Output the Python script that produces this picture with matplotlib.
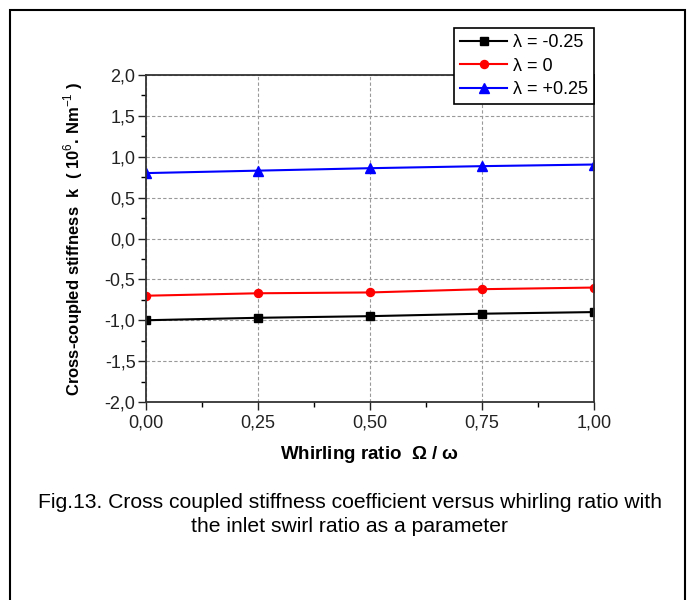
import matplotlib
matplotlib.use("Agg")
import matplotlib.pyplot as plt
from matplotlib.patches import Rectangle
from matplotlib.ticker import MultipleLocator, FuncFormatter

plt.rcParams['font.family'] = ['Liberation Sans', 'DejaVu Sans']
plt.rcParams['mathtext.fontset'] = 'custom'
plt.rcParams['mathtext.rm'] = 'Liberation Sans'
plt.rcParams['mathtext.bf'] = 'Liberation Sans:bold'

x = [0.0, 0.25, 0.5, 0.75, 1.0]
k_neg = [-1.00, -0.97, -0.95, -0.92, -0.90]
k_zero = [-0.70, -0.67, -0.66, -0.62, -0.60]
k_pos = [0.80, 0.83, 0.86, 0.885, 0.905]
labels = ['λ = -0.25', 'λ = 0', 'λ = +0.25']

fig = plt.figure(figsize=(6.99, 6.0), dpi=100)
ax = fig.add_axes([146/699, 1-402/600, (594-146)/699, (402-75)/600])

ax.plot(x, k_neg, color='black', marker='s', markersize=5.3, linewidth=1.5, label=labels[0])
ax.plot(x, k_zero, color='red', marker='o', markersize=5.8, linewidth=1.5, label=labels[1])
ax.plot(x, k_pos, color='blue', marker='^', markersize=6.5, linewidth=1.5, label=labels[2])

ax.set_xlim(0, 1)
ax.set_ylim(-2, 2)
ax.xaxis.set_major_locator(MultipleLocator(0.25))
ax.xaxis.set_minor_locator(MultipleLocator(0.125))
ax.yaxis.set_major_locator(MultipleLocator(0.5))
ax.yaxis.set_minor_locator(MultipleLocator(0.25))
ax.xaxis.set_major_formatter(FuncFormatter(lambda v, p: f"{v:.2f}".replace('.', ',')))
ax.yaxis.set_major_formatter(FuncFormatter(lambda v, p: f"{v:.1f}".replace('.', ',').replace('-0,0', '0,0')))
ax.tick_params(axis='both', which='major', direction='out', length=6, width=1, labelsize=13, colors='#222222')
ax.tick_params(axis='y', which='major', pad=1.5)
ax.tick_params(axis='x', which='major', pad=3)
ax.tick_params(axis='both', which='minor', direction='out', length=3.5, width=1)
ax.grid(True, which='major', linestyle=(0, (3, 2)), color='#999999', linewidth=0.8)
for s in ax.spines.values():
    s.set_color('#333333')
    s.set_linewidth(1.3)

ax.set_xlabel('Whirling ratio  $\\mathbf{\\Omega}$ / $\\mathbf{\\omega}$', fontsize=13.5, fontweight='bold', labelpad=9)
ax.set_ylabel('Cross-coupled stiffness  k  ( 10$^{6}$. Nm$^{-1}$ )', fontsize=12, fontweight='bold', labelpad=14)

leg = ax.legend(loc='upper right', bbox_to_anchor=(1.0, 1 + (75-28)/327), borderaxespad=0,
                fontsize=13, fancybox=False, framealpha=1, edgecolor='black',
                handlelength=2.6, handletextpad=0.3, borderpad=0.35, labelspacing=0.35)
leg.get_frame().set_linewidth(1.2)

fig.text(0.5, 1-503/600, 'Fig.13. Cross coupled stiffness coefficient versus whirling ratio with',
         ha='center', va='center', fontsize=15.2)
fig.text(0.5, 1-527/600, 'the inlet swirl ratio as a parameter', ha='center', va='center', fontsize=15.2)

fig.patches.append(Rectangle((10/699, -0.05), (685-10)/699, (1-10/600)+0.05, transform=fig.transFigure,
                             fill=False, edgecolor='black', linewidth=1.5))

fig.savefig('out.png', dpi=100)
